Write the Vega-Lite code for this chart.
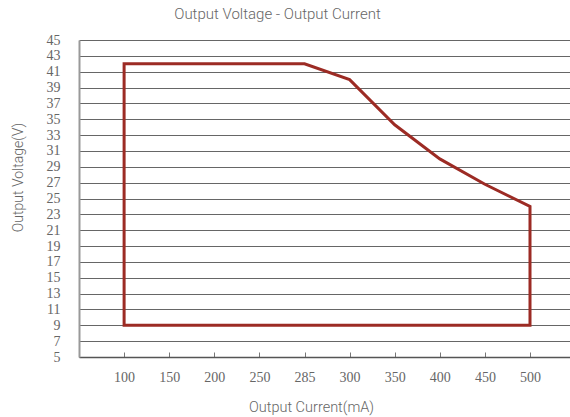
{
  "$schema": "https://vega.github.io/schema/vega-lite/v6.json",
  "width": 491,
  "height": 317,
  "autosize": {"type": "none"},
  "padding": {"left": 79, "top": 40, "right": 0, "bottom": 60},
  "background": "white",
  "config": {
    "view": {"stroke": null},
    "font": "Roboto"
  },
  "title": {
    "text": "Output Voltage - Output Current",
    "anchor": "middle",
    "frame": "group",
    "dx": -47,
    "offset": 11,
    "fontSize": 15,
    "fontWeight": 300,
    "font": "Roboto",
    "color": "#666666"
  },
  "data": {
    "values": [
      {"i": 1, "current": "100", "voltage": 9},
      {"i": 2, "current": "100", "voltage": 42},
      {"i": 3, "current": "285", "voltage": 42},
      {"i": 4, "current": "300", "voltage": 40},
      {"i": 5, "current": "350", "voltage": 34.3},
      {"i": 6, "current": "400", "voltage": 30},
      {"i": 7, "current": "450", "voltage": 26.8},
      {"i": 8, "current": "500", "voltage": 24},
      {"i": 9, "current": "500", "voltage": 9},
      {"i": 10, "current": "100", "voltage": 9}
    ]
  },
  "mark": {"type": "line", "color": "#9c2b24", "strokeWidth": 3, "strokeJoin": "miter", "strokeCap": "square"},
  "encoding": {
    "x": {
      "field": "current",
      "type": "ordinal",
      "scale": {
        "type": "point",
        "domain": ["100", "150", "200", "250", "285", "300", "350", "400", "450", "500"],
        "padding": 0.9435,
        "align": 0.53
      },
      "axis": {
        "title": "Output Current(mA)",
        "titleX": 232,
        "titleY": 50,
        "titleAlign": "center",
        "titleBaseline": "middle",
        "titleFont": "Roboto",
        "titleFontSize": 14.5,
        "titleFontWeight": 300,
        "titleColor": "#666666",
        "labelAngle": 0,
        "labelFont": "Liberation Serif",
        "labelFontSize": 14,
        "labelColor": "#666666",
        "labelPadding": 18,
        "tickSize": -5,
        "tickColor": "#777777",
        "domainColor": "#555555",
        "domainWidth": 1.5,
        "grid": false
      }
    },
    "y": {
      "field": "voltage",
      "type": "quantitative",
      "scale": {"domain": [5, 45], "nice": false, "zero": false},
      "axis": {
        "title": "Output Voltage(V)",
        "titleX": -61,
        "titleY": 137,
        "titleAngle": -90,
        "titleAlign": "center",
        "titleBaseline": "middle",
        "titleFont": "Roboto",
        "titleFontSize": 14,
        "titleFontWeight": 300,
        "titleColor": "#666666",
        "values": [5, 7, 9, 11, 13, 15, 17, 19, 21, 23, 25, 27, 29, 31, 33, 35, 37, 39, 41, 43, 45],
        "labelFont": "Liberation Serif",
        "labelFontSize": 14,
        "labelColor": "#666666",
        "labelPadding": 19,
        "ticks": false,
        "domainColor": "#999999",
        "domainWidth": 2,
        "grid": true,
        "gridColor": "#666666",
        "gridWidth": 1
      }
    },
    "order": {"field": "i", "type": "quantitative"}
  }
}
